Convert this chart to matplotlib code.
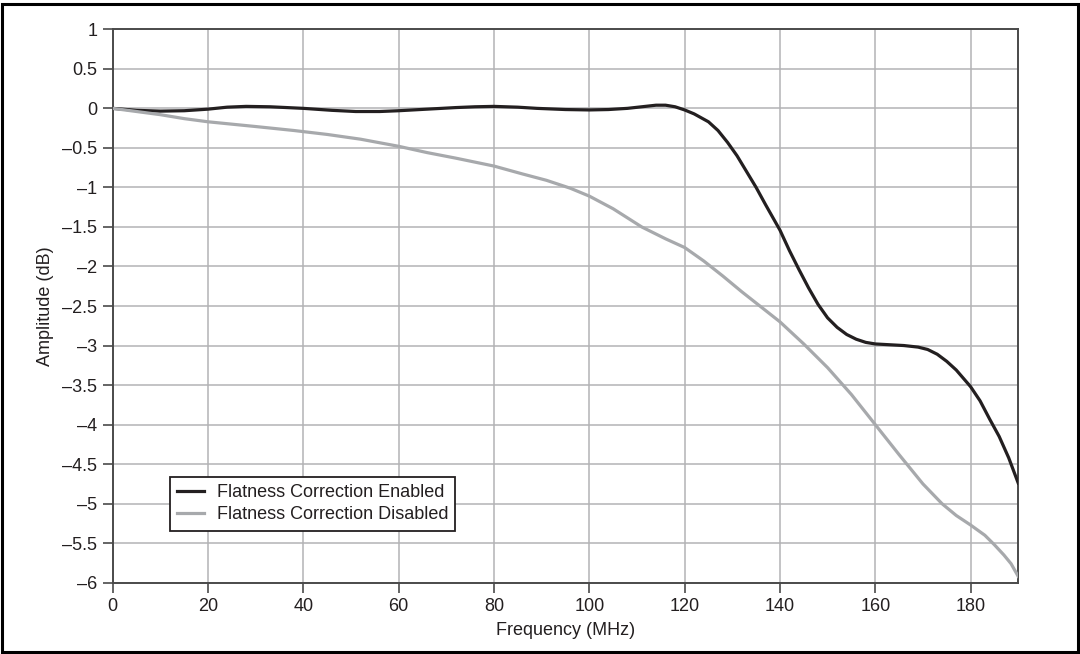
import matplotlib.pyplot as plt
from matplotlib.patches import Rectangle
from matplotlib.ticker import FuncFormatter, MultipleLocator

plt.rcParams['font.family'] = ['Liberation Sans', 'DejaVu Sans']

# Frequency (MHz) and amplitude (dB)
freq_on = [0, 5, 10, 15, 20, 24, 28, 33, 40, 46, 51, 56, 60, 66, 72, 76, 80, 85, 89,
           95, 100, 104, 108, 111, 114, 116, 118, 120, 122, 125, 127, 129, 131, 133,
           135, 137, 140, 142, 144, 146, 148, 150, 152, 154, 156, 158, 160, 163, 166,
           169, 171, 173, 175, 177, 180, 182, 184, 186, 188, 190]
amp_on = [0, -0.025, -0.035, -0.03, -0.01, 0.015, 0.025, 0.02, 0.0, -0.025, -0.04,
          -0.04, -0.03, -0.01, 0.01, 0.02, 0.025, 0.015, 0.0, -0.015, -0.02, -0.015,
          0.0, 0.02, 0.04, 0.04, 0.02, -0.02, -0.07, -0.17, -0.28, -0.43, -0.6, -0.8,
          -1.0, -1.22, -1.54, -1.8, -2.04, -2.27, -2.48, -2.65, -2.77, -2.86, -2.92,
          -2.96, -2.98, -2.99, -3.0, -3.02, -3.05, -3.11, -3.2, -3.31, -3.52, -3.7,
          -3.93, -4.15, -4.42, -4.74]

freq_off = [0, 5, 10, 15, 20, 30, 38, 45, 52, 60, 66, 72, 80, 86, 91, 96, 100, 105,
            111, 116, 120, 124, 128, 132, 136, 140, 145, 150, 155, 160, 165, 170, 174,
            177, 180, 183, 185, 187, 188.5, 190]
amp_off = [0, -0.04, -0.08, -0.13, -0.17, -0.23, -0.28, -0.33, -0.39, -0.48, -0.56,
           -0.63, -0.73, -0.83, -0.91, -1.01, -1.11, -1.27, -1.5, -1.65, -1.76, -1.93,
           -2.12, -2.32, -2.51, -2.7, -2.98, -3.28, -3.62, -4.0, -4.38, -4.75, -5.0,
           -5.15, -5.27, -5.4, -5.52, -5.65, -5.76, -5.92]

labels = ['Flatness Correction Enabled', 'Flatness Correction Disabled']

fig = plt.figure(figsize=(10.8, 6.54), dpi=100)
ax = fig.add_axes([0.1044, 0.109, 0.8384, 0.8462])

ax.plot(freq_on, amp_on, color='#231f20', lw=2.3, label=labels[0], zorder=3)
ax.plot(freq_off, amp_off, color='#a7a9ac', lw=2.3, label=labels[1], zorder=3)

ax.set_xlim(0, 190)
ax.set_ylim(-6, 1)
ax.xaxis.set_major_locator(MultipleLocator(20))
ax.yaxis.set_major_locator(MultipleLocator(0.5))
ax.yaxis.set_major_formatter(FuncFormatter(lambda v, p: f'{v:g}'.replace('-', '\u2013')))
ax.grid(True, color='#b3b3b5', lw=1.1)
ax.set_axisbelow(True)
ax.tick_params(labelsize=13, length=7, width=1.1, color='#3a3a3a', direction='out',
               pad=4, labelcolor='#231f20')
for s in ax.spines.values():
    s.set_color('#4a4a4a')
    s.set_linewidth(1.4)

ax.set_xlabel('Frequency (MHz)', fontsize=13, labelpad=5, color='#231f20')
ax.set_ylabel('Amplitude (dB)', fontsize=13, labelpad=6, color='#231f20')

leg = ax.legend(loc='lower left', bbox_to_anchor=(0.063, 0.094), borderaxespad=0,
                fontsize=13, frameon=True, fancybox=False, edgecolor='#231f20',
                framealpha=1, handlelength=1.5, handletextpad=0.7, borderpad=0.4,
                labelspacing=0.3)
leg.get_frame().set_linewidth(1.3)
for t in leg.get_texts():
    t.set_color('#231f20')

# outer frame around the whole figure
fig.patches.append(Rectangle((0.002, 0.003), 0.996, 0.991, transform=fig.transFigure,
                             fill=False, edgecolor='black', lw=2.2))

fig.savefig('out.png', dpi=100)
